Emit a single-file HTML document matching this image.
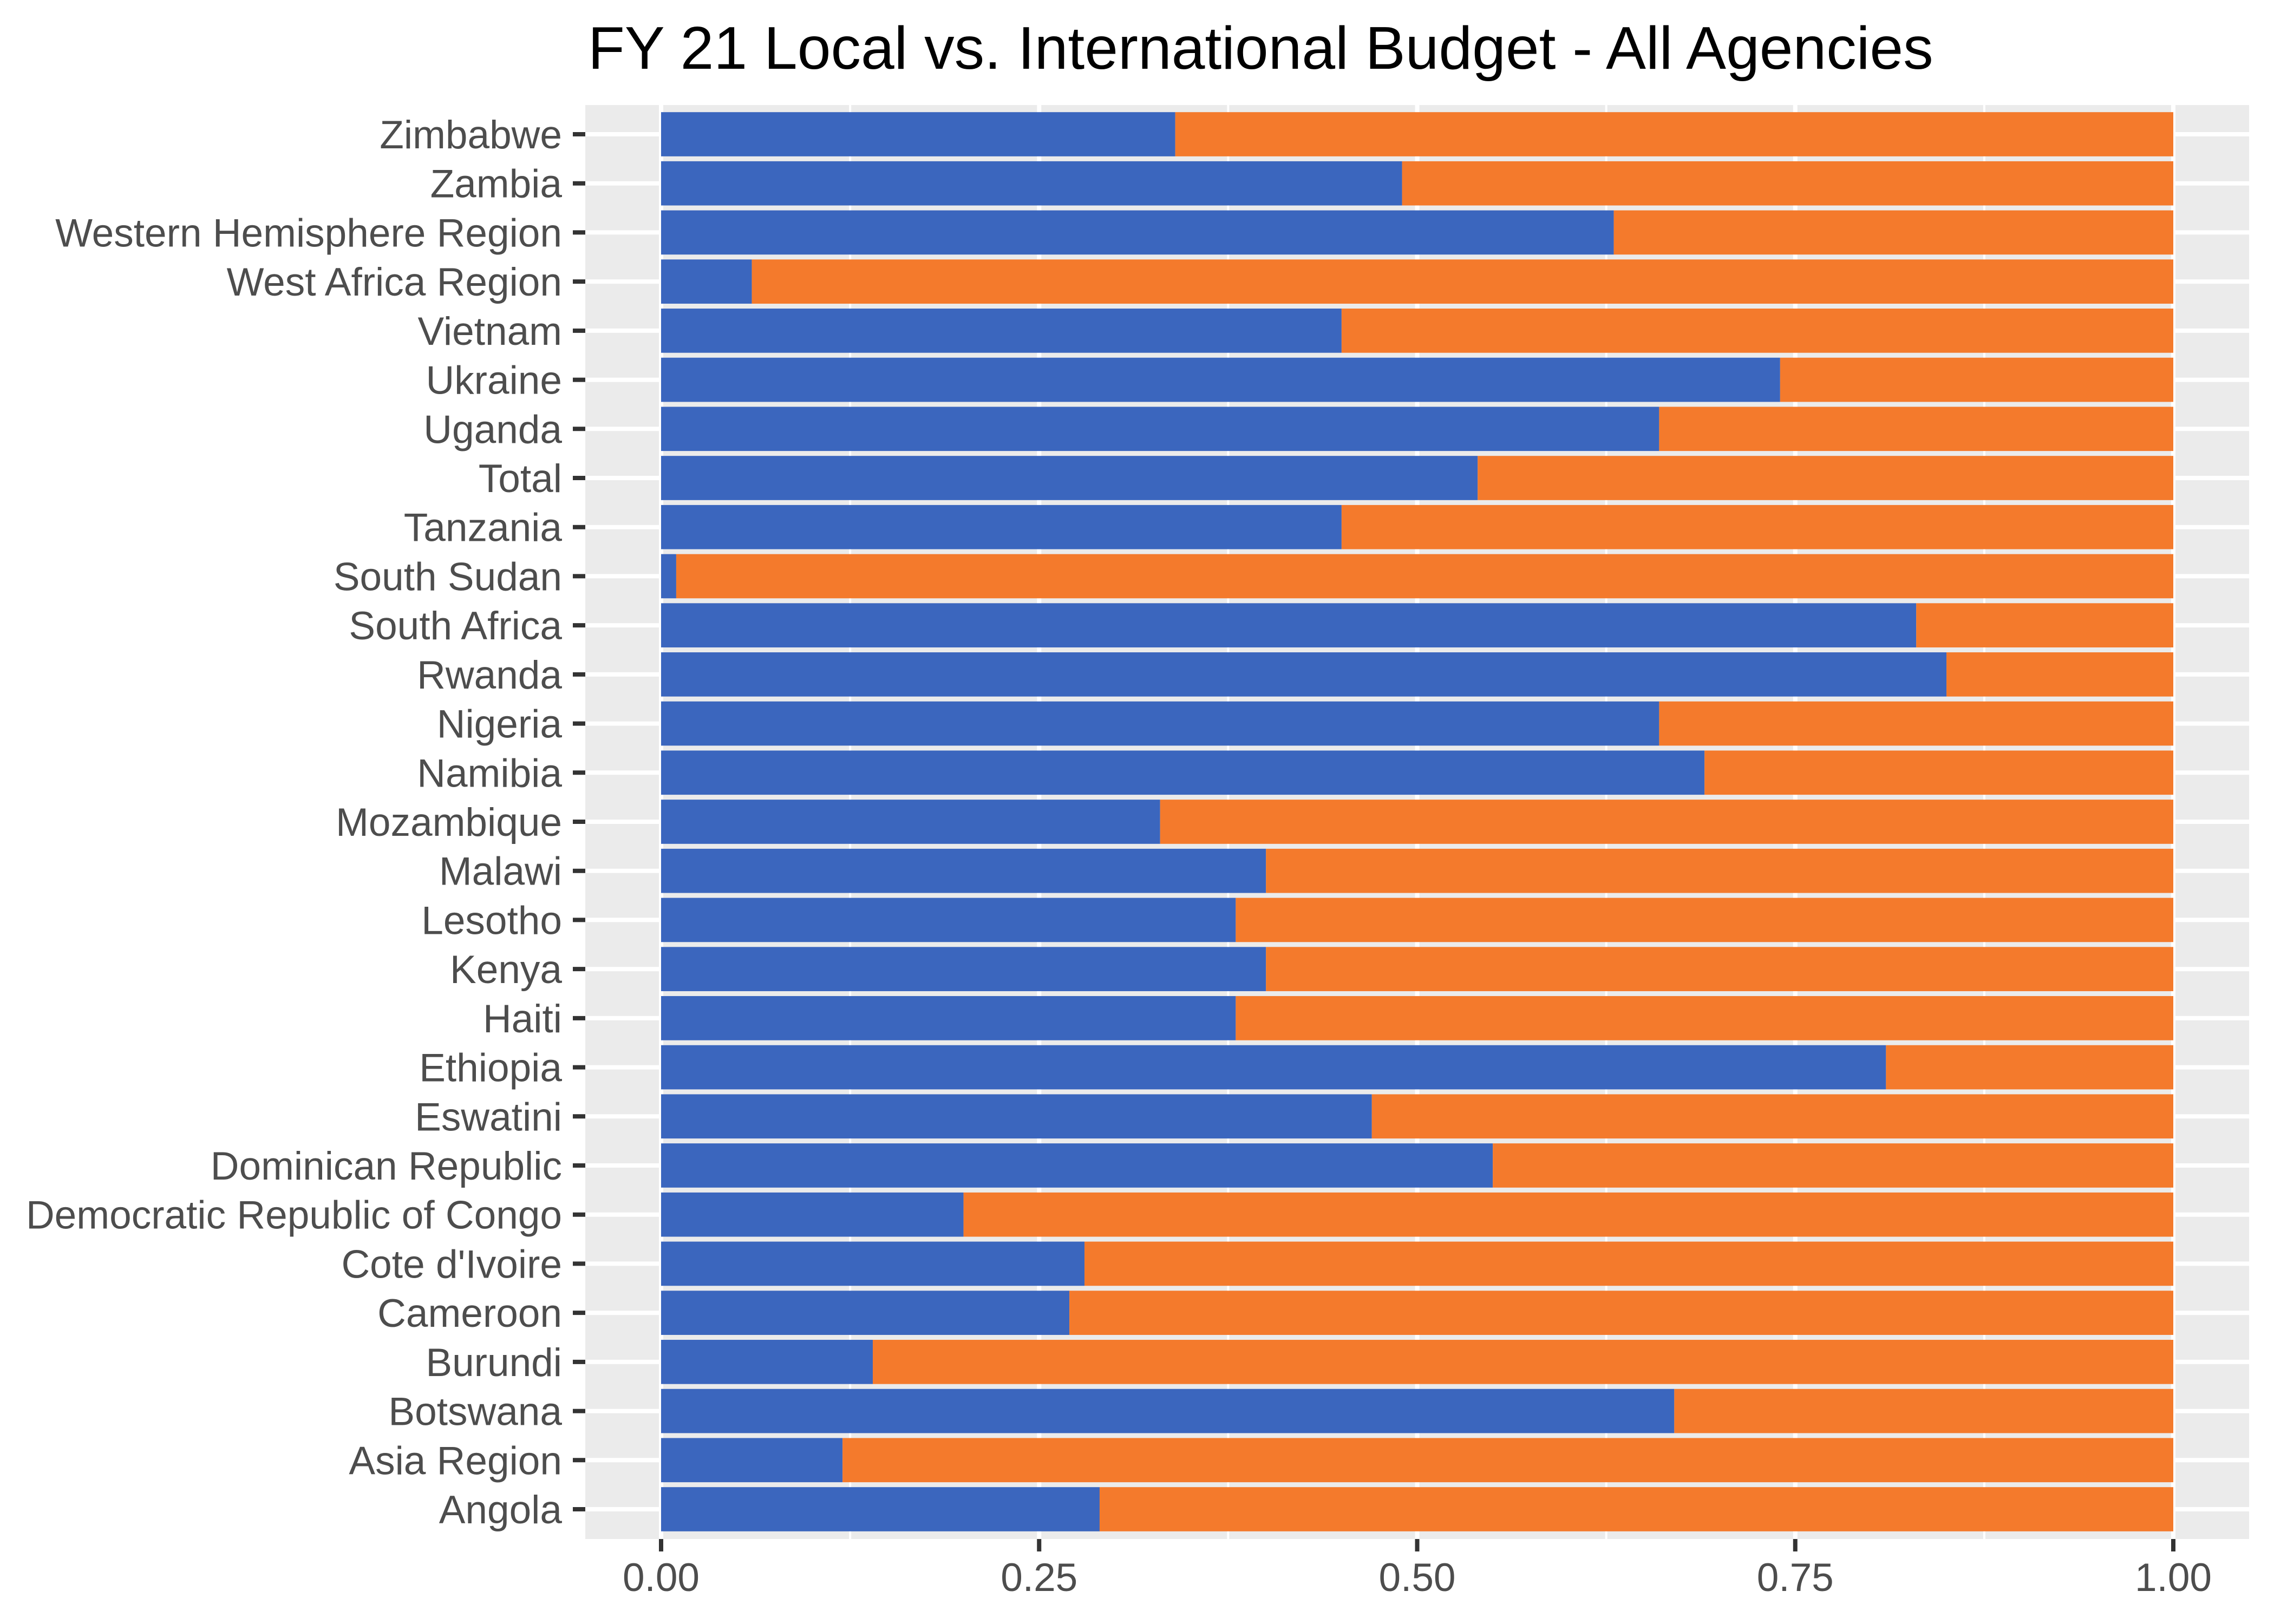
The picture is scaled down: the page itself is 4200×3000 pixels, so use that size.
<!DOCTYPE html>
<html><head><meta charset="utf-8"><style>
html,body{margin:0;padding:0;background:#fff;}
svg{display:block;font-family:"Liberation Sans",Arial,sans-serif;}
</style></head><body>
<svg id="chart" width="4200" height="3000" viewBox="0 0 4200 3000" xmlns="http://www.w3.org/2000/svg">
<rect x="0" y="0" width="4200" height="3000" fill="#fff"/>
<text x="1086" y="127" font-size="111" fill="#000">FY 21 Local vs. International Budget - All Agencies</text>
<rect x="1081" y="194" width="3073" height="2649" fill="#EBEBEB"/>
<g id="grid"></g><g id="bars"></g><g id="axes"></g>
</svg>
<script>
const categories = ["Zimbabwe","Zambia","Western Hemisphere Region","West Africa Region","Vietnam","Ukraine","Uganda","Total","Tanzania","South Sudan","South Africa","Rwanda","Nigeria","Namibia","Mozambique","Malawi","Lesotho","Kenya","Haiti","Ethiopia","Eswatini","Dominican Republic","Democratic Republic of Congo","Cote d'Ivoire","Cameroon","Burundi","Botswana","Asia Region","Angola"];
const localShare = [0.34,0.49,0.63,0.06,0.45,0.74,0.66,0.54,0.45,0.01,0.83,0.85,0.66,0.69,0.33,0.40,0.38,0.40,0.38,0.81,0.47,0.55,0.20,0.28,0.27,0.14,0.67,0.12,0.29];
const xTicks = [0,0.25,0.5,0.75,1];
const xTickLabels = ["0.00","0.25","0.50","0.75","1.00"];

const NS="http://www.w3.org/2000/svg";
const x = v => 1221 + v*2793;
const y0 = 248, step = (2788-248)/(categories.length-1);
const y = i => y0 + i*step;
const bh = step*0.9;
function mk(tag, attrs, parent){const e=document.createElementNS(NS,tag);for(const k in attrs)e.setAttribute(k,attrs[k]);parent.appendChild(e);return e;}
const grid=document.getElementById('grid'),bars=document.getElementById('bars'),axes=document.getElementById('axes');
for(let i=0;i<xTicks.length-1;i++){
  const m=(xTicks[i]+xTicks[i+1])/2;
  const l=mk('line',{x1:x(m),x2:x(m),y1:194,y2:2843,stroke:'#fff','stroke-width':4},grid);
  
  
}
xTicks.forEach((t,i)=>{
  const l=mk('line',{x1:x(t),x2:x(t),y1:194,y2:2843,stroke:'#fff','stroke-width':8},grid);
  
  
  const tk=mk('line',{x1:x(t),x2:x(t),y1:2843,y2:2866,stroke:'#333','stroke-width':8},axes);
  
  
  const tx=mk('text',{x:x(t),y:2939,'font-size':73,fill:'#4D4D4D','text-anchor':'middle'},axes);
  tx.textContent=xTickLabels[i];
  
  
});
categories.forEach((c,i)=>{
  const yc=y(i);
  const g=mk('line',{x1:1081,x2:4154,y1:yc,y2:yc,stroke:'#fff','stroke-width':8},grid);
  
  
  const b1=mk('rect',{x:x(0),y:yc-bh/2,width:x(localShare[i])-x(0),height:bh,fill:'#3B66BE'},bars);
  
  
  const b2=mk('rect',{x:x(localShare[i]),y:yc-bh/2,width:x(1)-x(localShare[i]),height:bh,fill:'#F47A2C'},bars);
  
  
  const tk=mk('line',{x1:1058,x2:1081,y1:yc,y2:yc,stroke:'#333','stroke-width':8},axes);
  
  
  const tx=mk('text',{x:1038,y:yc+26,'font-size':73,fill:'#4D4D4D','text-anchor':'end'},axes);
  tx.textContent=c;
  
  
});
</script>
</body></html>
